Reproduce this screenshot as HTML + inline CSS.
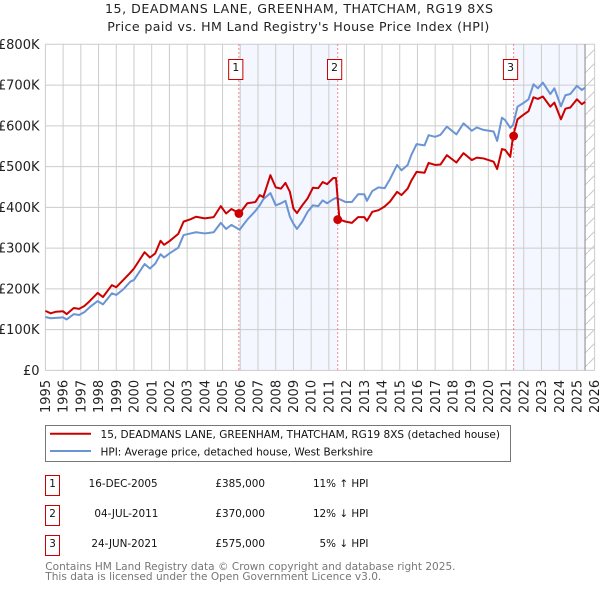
<!DOCTYPE html>
<html>
<head>
<meta charset="utf-8">
<title>15, Deadmans Lane price paid vs HPI</title>
<style>
html,body{margin:0;padding:0;background:#fff;width:600px;height:590px;overflow:hidden}
svg{display:block;font-family:"DejaVu Sans","Liberation Sans",sans-serif}
</style>
</head>
<body>
<svg id="chart" xmlns="http://www.w3.org/2000/svg" width="600" height="590" viewBox="0 0 600 590">
  <defs>
    <pattern id="hatch" patternUnits="userSpaceOnUse" width="14" height="14">
      <path d="M0 14 L14 0" stroke="#c8c8c8" stroke-width="1"/>
    </pattern>
  </defs>
  <text x="105" y="13" font-size="12.6" textLength="388" lengthAdjust="spacing" fill="#222">15, DEADMANS LANE, GREENHAM, THATCHAM, RG19 8XS</text>
  <text x="107.3" y="31" font-size="12.6" textLength="382" lengthAdjust="spacing" fill="#222">Price paid vs. HM Land Registry's House Price Index (HPI)</text>
  <g id="plot"></g>

  <g>
    <rect x="45.5" y="425.5" width="465" height="36" fill="#fff" stroke="#777" stroke-width="1"/>
    <line x1="50" x2="91" y1="433.7" y2="433.7" stroke="#cc0000" stroke-width="2"/>
    <text x="100.5" y="438" font-size="10.6" textLength="399.5" lengthAdjust="spacingAndGlyphs" fill="#111">15, DEADMANS LANE, GREENHAM, THATCHAM, RG19 8XS (detached house)</text>
    <line x1="50" x2="91" y1="451" y2="451" stroke="#6a94d4" stroke-width="2"/>
    <text x="100.5" y="455.3" font-size="10.6" textLength="272.5" lengthAdjust="spacingAndGlyphs" fill="#111">HPI: Average price, detached house, West Berkshire</text>
  </g>

  <g font-size="10.4" fill="#111">
    <rect x="45.5" y="475.5" width="14" height="20" fill="#fff" stroke="#cc0000"/>
    <text x="52.5" y="487" text-anchor="middle">1</text>
    <text x="157.6" y="487" text-anchor="end">16-DEC-2005</text>
    <text x="265" y="487" text-anchor="end">£385,000</text>
    <text x="368.5" y="487" text-anchor="end">11% ↑ HPI</text>

    <rect x="45.5" y="505.5" width="14" height="20" fill="#fff" stroke="#cc0000"/>
    <text x="52.5" y="517" text-anchor="middle">2</text>
    <text x="158.4" y="517" text-anchor="end">04-JUL-2011</text>
    <text x="265" y="517" text-anchor="end">£370,000</text>
    <text x="368.5" y="517" text-anchor="end">12% ↓ HPI</text>

    <rect x="45.5" y="535.5" width="14" height="20" fill="#fff" stroke="#cc0000"/>
    <text x="52.5" y="547" text-anchor="middle">3</text>
    <text x="157.6" y="547" text-anchor="end">24-JUN-2021</text>
    <text x="265" y="547" text-anchor="end">£575,000</text>
    <text x="368.5" y="547" text-anchor="end">5% ↓ HPI</text>
  </g>

  <text x="45.3" y="570" font-size="10.55" fill="#777">Contains HM Land Registry data © Crown copyright and database right 2025.</text>
  <text x="45.3" y="580" font-size="10.55" fill="#777">This data is licensed under the Open Government Licence v3.0.</text>
</svg>
<script>
var sampleYears = [1995.0,1995.3,1995.6,1996.0,1996.2,1996.6,1996.9,1997.2,1997.5,1997.95,1998.25,1998.75,1999.0,1999.4,1999.8,2000.0,2000.6,2000.9,2001.2,2001.5,2001.7,2002.0,2002.5,2002.8,2003.2,2003.5,2004.0,2004.5,2004.9,2005.2,2005.5,2005.96,2006.4,2006.85,2007.1,2007.3,2007.7,2008.0,2008.3,2008.55,2008.8,2009.0,2009.2,2009.5,2009.8,2010.1,2010.4,2010.65,2010.9,2011.25,2011.4,2011.6,2011.95,2012.3,2012.65,2013.0,2013.15,2013.45,2013.8,2014.15,2014.45,2014.85,2015.1,2015.45,2015.65,2015.95,2016.4,2016.63,2017.0,2017.3,2017.66,2018.2,2018.6,2019.07,2019.35,2019.73,2020.3,2020.5,2020.77,2020.95,2021.24,2021.4,2021.65,2021.95,2022.27,2022.55,2022.8,2023.08,2023.5,2023.73,2024.1,2024.35,2024.63,2025.0,2025.28,2025.47];
var hpiValues = [131,128,129,130,125,138,136,143,155,170,162,189,185,199,218,222,261,250,262,285,277,287,301,332,336,339,336,339,362,347,357,345,370,391,405,420,435,405,410,416,377,360,347,365,389,405,403,417,410,420,423,420,413,413,432,432,416,440,449,447,469,504,491,504,528,555,552,577,573,578,598,579,606,588,596,590,586,563,620,614,595,602,647,655,665,702,692,706,678,692,648,675,678,698,688,694];
var priceValues = [146,140,144,145,138,153,151,158,170,190,180,209,204,222,240,250,290,277,287,318,308,317,335,365,371,377,373,376,403,385,396,385,410,413,430,425,479,449,446,460,438,397,386,405,422,448,447,462,457,472,472,370,365,362,376,376,367,389,393,402,414,438,430,446,465,487,485,509,504,505,528,510,533,516,522,520,512,494,543,541,524,575,616,626,636,670,666,672,647,657,616,642,645,665,653,659];
var yTicks = [0,100,200,300,400,500,600,700,800];
var yTickLabels = ['£0','£100K','£200K','£300K','£400K','£500K','£600K','£700K','£800K'];
var xTicks = [1995,1996,1997,1998,1999,2000,2001,2002,2003,2004,2005,2006,2007,2008,2009,2010,2011,2012,2013,2014,2015,2016,2017,2018,2019,2020,2021,2022,2023,2024,2025,2026];
var saleLabels = ['1','2','3'];
var saleYears = [2005.92,2011.5,2021.43];
var salePrices = [385,370,575];
var lastDataYear = 2025.46;

var NS = 'http://www.w3.org/2000/svg';
var plot = document.getElementById('plot');
var L = 45.4, R = 594.6, T = 44.3, B = 370.4;
function X(y){ return L + (y - 1995) * (R - L) / 31; }
function Y(v){ return B - v * (B - T) / 800; }
function make(tag, attrs, parent){
  var e = document.createElementNS(NS, tag);
  for (var k in attrs) e.setAttribute(k, attrs[k]);
  (parent || plot).appendChild(e);
  return e;
}
var el;
el = make('rect', {x:X(saleYears[0]), y:T, width:X(saleYears[1])-X(saleYears[0]), height:B-T, fill:'#f4f7ff'});


el = make('rect', {x:X(saleYears[2]), y:T, width:X(lastDataYear)-X(saleYears[2]), height:B-T, fill:'#f4f7ff'});


el = make('rect', {x:X(lastDataYear), y:T, width:R-X(lastDataYear), height:B-T, fill:'url(#hatch)'});



xTicks.forEach(function(t){
  el = make('line', {x1:X(t), x2:X(t), y1:T, y2:B, stroke:'#cccccc', 'stroke-width':1});
  
  
  el = make('text', {transform:'translate('+(X(t)+4.6)+',413) rotate(-90)', 'font-size':13, fill:'#222'});
  
  
  el.textContent = String(t);
});
yTicks.forEach(function(t, i){
  el = make('line', {x1:L, x2:R, y1:Y(t), y2:Y(t), stroke:'#cccccc', 'stroke-width':1});
  
  
  el = make('text', {x:39.5, y:Y(t)+4.6, 'text-anchor':'end', 'font-size':13, fill:'#222'});
  
  
  el.textContent = yTickLabels[i];
});
el = make('line', {x1:X(lastDataYear), x2:X(lastDataYear), y1:T, y2:B, stroke:'#999999', 'stroke-width':1.2});



saleYears.forEach(function(s){
  el = make('line', {x1:X(s), x2:X(s), y1:T, y2:B, stroke:'#ee6666', 'stroke-width':1, 'stroke-dasharray':'1.5 2.5'});
  
  
});
function linePath(vals){
  return vals.map(function(v, i){ return (i ? 'L' : 'M') + X(sampleYears[i]).toFixed(2) + ' ' + Y(v).toFixed(2); }).join(' ');
}
el = make('path', {d:linePath(hpiValues), fill:'none', stroke:'#6a94d4', 'stroke-width':2, 'stroke-linejoin':'round'});


el = make('path', {d:linePath(priceValues), fill:'none', stroke:'#cc0000', 'stroke-width':2, 'stroke-linejoin':'round'});



saleYears.forEach(function(s, i){
  el = make('circle', {cx:X(s), cy:Y(salePrices[i]), r:4.4, fill:'#cc0000'});
  
  
  el = make('rect', {x:X(s)-10.2, y:59.5, width:14.2, height:20, fill:'#fff', stroke:'#cc0000', 'stroke-width':1});
  
  
  el = make('text', {x:X(s)-3.1, y:71, 'text-anchor':'middle', 'font-size':10.8, fill:'#111'});
  
  
  el.textContent = saleLabels[i];
});
</script>
</body>
</html>
